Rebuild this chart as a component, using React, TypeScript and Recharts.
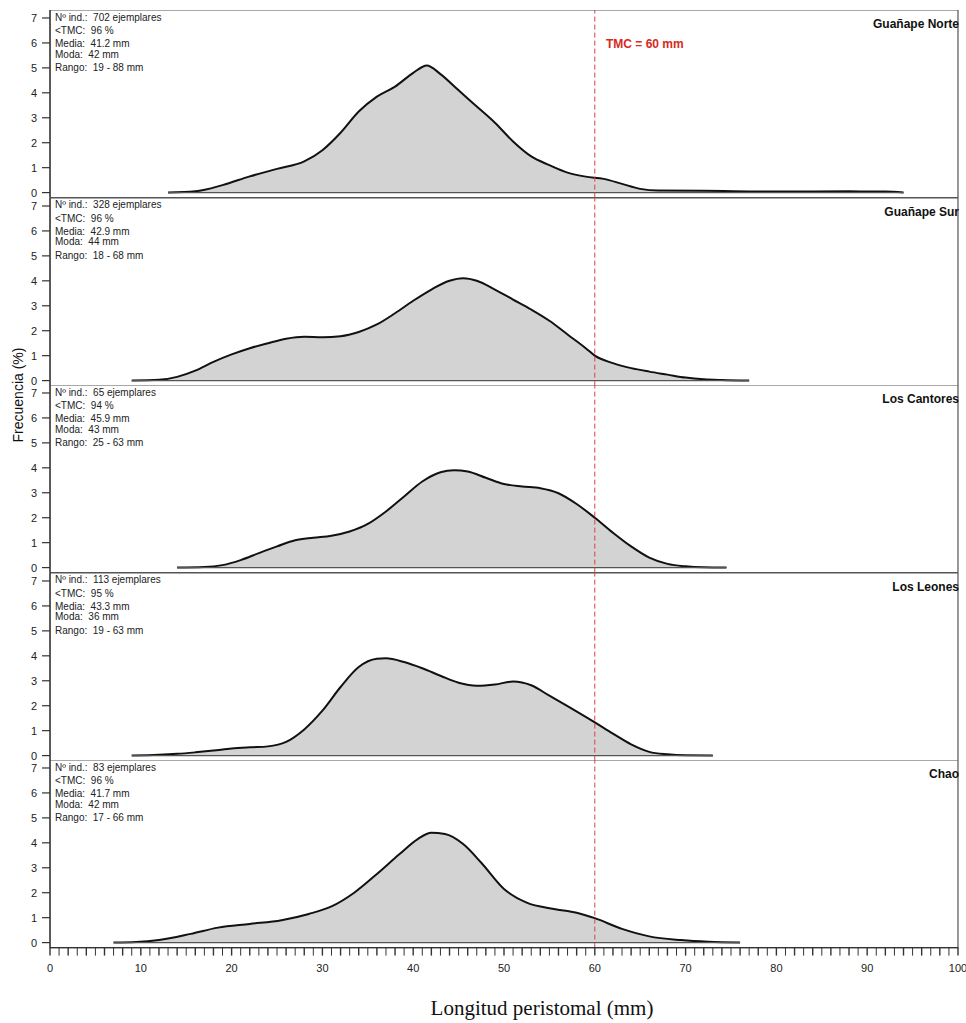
import React from "react";
import { AreaChart, Area, XAxis, YAxis, ReferenceLine, ReferenceArea } from "recharts";

// ---- Data (x = longitud peristomal mm, y = frecuencia %) ----
const norteX = [13, 16, 19, 22, 25, 28, 30, 32, 34, 36, 38, 40, 41.5, 43, 45, 47, 49, 51, 53, 55, 57, 59, 61, 63, 65, 67, 72, 80, 88, 92, 94];
const norteY = [0, 0.05, 0.3, 0.65, 0.95, 1.25, 1.7, 2.4, 3.25, 3.85, 4.25, 4.8, 5.1, 4.75, 4.1, 3.45, 2.8, 2.05, 1.45, 1.1, 0.8, 0.64, 0.55, 0.35, 0.15, 0.08, 0.07, 0.04, 0.05, 0.04, 0];

const surX = [9, 12, 14, 16, 18, 20, 22, 24, 26, 28, 30, 32, 34, 36, 38, 40, 42, 44, 45.5, 47, 49, 51, 53, 55, 57, 59, 60, 62, 64, 66, 68, 70, 72, 74, 77];
const surY = [0, 0.03, 0.15, 0.4, 0.75, 1.05, 1.3, 1.5, 1.68, 1.76, 1.74, 1.78, 1.95, 2.25, 2.7, 3.2, 3.65, 4.0, 4.1, 4.0, 3.65, 3.25, 2.85, 2.4, 1.85, 1.3, 1.0, 0.7, 0.5, 0.36, 0.24, 0.12, 0.05, 0.02, 0];

const cantoresX = [14, 17, 19, 21, 23, 25, 27, 29, 31, 33, 35, 37, 39, 41, 43, 44.5, 46, 48, 50, 52, 54, 56, 58, 60, 62, 64, 66, 68, 70, 72, 74.5];
const cantoresY = [0, 0.02, 0.1, 0.3, 0.58, 0.85, 1.1, 1.2, 1.28, 1.45, 1.75, 2.25, 2.85, 3.45, 3.82, 3.9, 3.85, 3.6, 3.35, 3.25, 3.18, 2.98, 2.55, 2.0, 1.4, 0.85, 0.4, 0.15, 0.05, 0.01, 0];

const leonesX = [9, 12, 14, 16, 18, 20, 22, 24, 26, 28, 30, 32, 34, 36, 37, 39, 41, 43, 45, 47, 49, 51, 53, 55, 57, 59, 60, 62, 64, 66, 68, 70, 73];
const leonesY = [0, 0.03, 0.07, 0.13, 0.2, 0.28, 0.33, 0.37, 0.55, 1.05, 1.8, 2.75, 3.55, 3.88, 3.9, 3.75, 3.5, 3.2, 2.92, 2.8, 2.85, 2.97, 2.82, 2.4, 1.98, 1.55, 1.33, 0.88, 0.45, 0.15, 0.05, 0.01, 0];

const chaoX = [7, 9.5, 12, 15.5, 18.5, 22, 25.5, 28.5, 31, 33.5, 36, 38.5, 40.5, 42, 43.5, 45.5, 47.5, 50, 52.5, 55.5, 58, 60, 63, 66, 69.5, 72.5, 76];
const chaoY = [0, 0.02, 0.1, 0.35, 0.6, 0.75, 0.9, 1.15, 1.45, 2.0, 2.75, 3.55, 4.15, 4.4, 4.35, 3.95, 3.2, 2.15, 1.6, 1.35, 1.2, 0.98, 0.55, 0.25, 0.1, 0.03, 0];

const panelNames = ["Guañape Norte", "Guañape Sur", "Los Cantores", "Los Leones", "Chao"];
const panelN = [702, 328, 65, 113, 83];
const panelTMC = [96, 96, 94, 95, 96];
const panelMedia = ["41.2", "42.9", "45.9", "43.3", "41.7"];
const panelModa = [42, 44, 43, 36, 42];
const panelRango = ["19 - 88", "18 - 68", "25 - 63", "19 - 63", "17 - 66"];
const seriesX = [norteX, surX, cantoresX, leonesX, chaoX];
const seriesY = [norteY, surY, cantoresY, leonesY, chaoY];

const yTicks = [0, 1, 2, 3, 4, 5, 6, 7];
const xTicks = Array.from({ length: 101 }, (_, i) => i);
const TMC = 60;

// ---- layout ----
const W = 966;
const TOP = 10;
const PH = 187.6;
const Y_DOMAIN: [number, number] = [-0.2, 7.32];
const FONT = "Arial, 'Liberation Sans', sans-serif";

const XTick = (props: any) => {
  const { x, y, payload } = props;
  const v = payload.value as number;
  return (
    <g>
      <line x1={x} x2={x} y1={y} y2={y + 8} stroke="#333" strokeWidth={v % 2 === 0 ? 1.4 : 1} />
      {v % 10 === 0 && (
        <text x={x} y={y + 24} textAnchor="middle" fontSize={11} fill="#222" fontFamily={FONT}>
          {v}
        </text>
      )}
    </g>
  );
};

function Panel({ idx }: { idx: number }) {
  const xs = seriesX[idx];
  const ys = seriesY[idx];
  const data = xs.map((x, i) => ({ x, y: ys[i] }));
  const last = idx === 4;
  const h = last ? PH + 48 : PH;
  return (
    <div style={{ position: "absolute", left: 0, top: TOP + idx * PH, width: W, height: h }}>
      <AreaChart width={W} height={h} data={data} margin={{ top: 0, right: 8, bottom: 0, left: 10 }}>
        <XAxis
          dataKey="x"
          type="number"
          domain={[0, 100]}
          allowDataOverflow
          ticks={xTicks}
          interval={0}
          hide={!last}
          height={48}
          tickSize={0}
          tickMargin={0}
          tickLine={false}
          axisLine={{ stroke: "#333", strokeWidth: 1.2 }}
          tick={<XTick />}
        />
        <YAxis
          type="number"
          domain={Y_DOMAIN}
          allowDataOverflow
          ticks={yTicks}
          interval={0}
          width={40}
          tickSize={8}
          tickMargin={5}
          tickLine={{ stroke: "#333", strokeWidth: 1.2 }}
          axisLine={{ stroke: "#333", strokeWidth: 1.2 }}
          tick={{ fontSize: 11, fill: "#222", fontFamily: FONT }}
        />
        <ReferenceArea x1={0} x2={100} y1={Y_DOMAIN[0]} y2={Y_DOMAIN[1]} fill="none" stroke="#555" strokeWidth={1.2} />
        <Area
          type="monotone"
          dataKey="y"
          baseValue={0}
          stroke="#111"
          strokeWidth={2}
          fill="#d3d3d3"
          fillOpacity={1}
          isAnimationActive={false}
          dot={false}
          activeDot={false}
        />
        <ReferenceLine
          segment={[{ x: xs[0], y: 0 }, { x: xs[xs.length - 1], y: 0 }]}
          stroke="#555"
          strokeWidth={1.2}
        />
        <ReferenceLine x={TMC} stroke="#d9443c" strokeDasharray="5 3" strokeWidth={1} />
      </AreaChart>
    </div>
  );
}

function Stats({ idx }: { idx: number }) {
  const top = TOP + idx * PH;
  const lines = [
    { t: `Nº ind.:  ${panelN[idx]} ejemplares`, c: 7.5 },
    { t: `<TMC:  ${panelTMC[idx]} %`, c: 21 },
    { t: `Media:  ${panelMedia[idx]} mm`, c: 34 },
    { t: `Moda:  ${panelModa[idx]} mm`, c: 44.5 },
    { t: `Rango:  ${panelRango[idx]} mm`, c: 58 },
  ];
  return (
    <>
      {lines.map((l, i) => (
        <div
          key={i}
          style={{
            position: "absolute",
            left: 55,
            top: top + l.c - 6,
            height: 12,
            lineHeight: "12px",
            fontSize: 10,
            fontFamily: FONT,
            color: "#222",
            whiteSpace: "pre",
          }}
        >
          {l.t}
        </div>
      ))}
      <div
        style={{
          position: "absolute",
          right: W - 959,
          top: top + 7,
          lineHeight: "14px",
          fontSize: 12,
          fontWeight: "bold",
          fontFamily: FONT,
          color: "#111",
          whiteSpace: "pre",
        }}
      >
        {panelNames[idx]}
      </div>
    </>
  );
}

export default function App() {
  return (
    <div style={{ position: "absolute", left: 0, top: 0, width: W, height: 1023, background: "#fff", overflow: "hidden" }}>
      {[0, 1, 2, 3, 4].map((i) => (
        <Panel key={i} idx={i} />
      ))}
      {[0, 1, 2, 3, 4].map((i) => (
        <Stats key={i} idx={i} />
      ))}
      <div
        style={{
          position: "absolute",
          left: 606,
          top: 36,
          lineHeight: "16px",
          fontSize: 12,
          fontWeight: "bold",
          fontFamily: FONT,
          color: "#d62a22",
          whiteSpace: "pre",
        }}
      >
        TMC = 60 mm
      </div>
      <div
        style={{
          position: "absolute",
          left: 18 - 70,
          top: 395 - 9,
          width: 140,
          height: 18,
          lineHeight: "18px",
          textAlign: "center",
          transform: "rotate(-90deg)",
          fontSize: 14,
          fontFamily: FONT,
          color: "#111",
        }}
      >
        Frecuencia (%)
      </div>
      <div
        style={{
          position: "absolute",
          left: 342,
          width: 400,
          top: 995,
          lineHeight: "26px",
          textAlign: "center",
          fontSize: 21,
          fontFamily: "'Liberation Serif', 'Times New Roman', serif",
          color: "#111",
        }}
      >
        Longitud peristomal (mm)
      </div>
    </div>
  );
}
